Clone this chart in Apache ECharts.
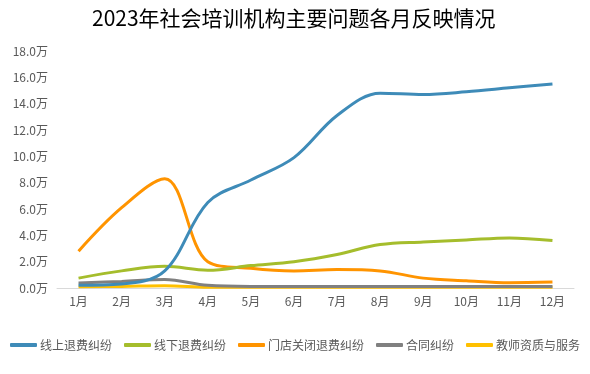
<!DOCTYPE html>
<html><head><meta charset="utf-8">
<script src="https://cdn.jsdelivr.net/npm/echarts@6/dist/echarts.min.js"></script>
<style>html,body{margin:0;padding:0;background:#fff}#c{width:590px;height:374px}</style>
</head><body><div id="c"></div>
<script>
const categories = ['1月','2月','3月','4月','5月','6月','7月','8月','9月','10月','11月','12月'];
const seriesNames = ['线上退费纠纷','线下退费纠纷','门店关闭退费纠纷','合同纠纷','教师资质与服务'];
const online  = [0.2, 0.3, 1.3, 6.5, 8.2, 9.9, 13.1, 14.8, 14.7, 14.9, 15.2, 15.5];
const offline = [0.75, 1.3, 1.65, 1.35, 1.7, 2.0, 2.55, 3.3, 3.5, 3.65, 3.8, 3.6];
const closed  = [2.8, 6.1, 8.3, 2.0, 1.5, 1.3, 1.4, 1.3, 0.75, 0.55, 0.4, 0.45];
const contract= [0.38, 0.5, 0.65, 0.2, 0.12, 0.12, 0.12, 0.12, 0.12, 0.12, 0.12, 0.12];
const teacher = [0.1, 0.12, 0.17, 0.06, 0.05, 0.05, 0.05, 0.05, 0.05, 0.05, 0.05, 0.05];
const colors = ['#3E8BB8','#A5BD2C','#FF9400','#808080','#FFC000'];
const allData = [online, offline, closed, contract, teacher];

const chart = echarts.init(document.getElementById('c'));
const font = '"Noto Sans CJK SC", "Noto Sans", sans-serif';
chart.setOption({
  animation: false,
  color: colors,
  title: {
    text: '2023年社会培训机构主要问题各月反映情况',
    left: 87, top: 3,
    textStyle: {fontFamily: font, fontSize: 21, fontWeight: 'normal', color: '#000'}
  },
  legend: {
    bottom: 18, left: 'center',
    itemWidth: 27, itemHeight: 4, itemGap: 12,
    icon: 'roundRect',
    textStyle: {fontFamily: font, fontSize: 12, color: '#595959', padding: [0,0,0,-2]},
    data: seriesNames
  },
  grid: {left: 57, right: 16, top: 51, bottom: 86},
  xAxis: {
    type: 'category', data: categories, boundaryGap: true,
    axisLine: {lineStyle: {color: '#D9D9D9', width: 1}},
    axisTick: {show: false},
    axisLabel: {fontFamily: font, fontSize: 12, color: '#595959', margin: 7}
  },
  yAxis: {
    type: 'value', min: 0, max: 18, interval: 2,
    axisLine: {show: false}, axisTick: {show: false},
    splitLine: {show: false},
    axisLabel: {fontFamily: font, fontSize: 12, color: '#595959', margin: 9,
      formatter: v => v.toFixed(1) + '万'}
  },
  series: seriesNames.map((n, i) => ({
    name: n, type: 'line', data: allData[i], smooth: 0.35,
    showSymbol: false, symbol: 'none',
    lineStyle: {width: 3, color: colors[i]},
    itemStyle: {color: colors[i]},
    z: 10 - i
  }))
});
</script></body></html>
